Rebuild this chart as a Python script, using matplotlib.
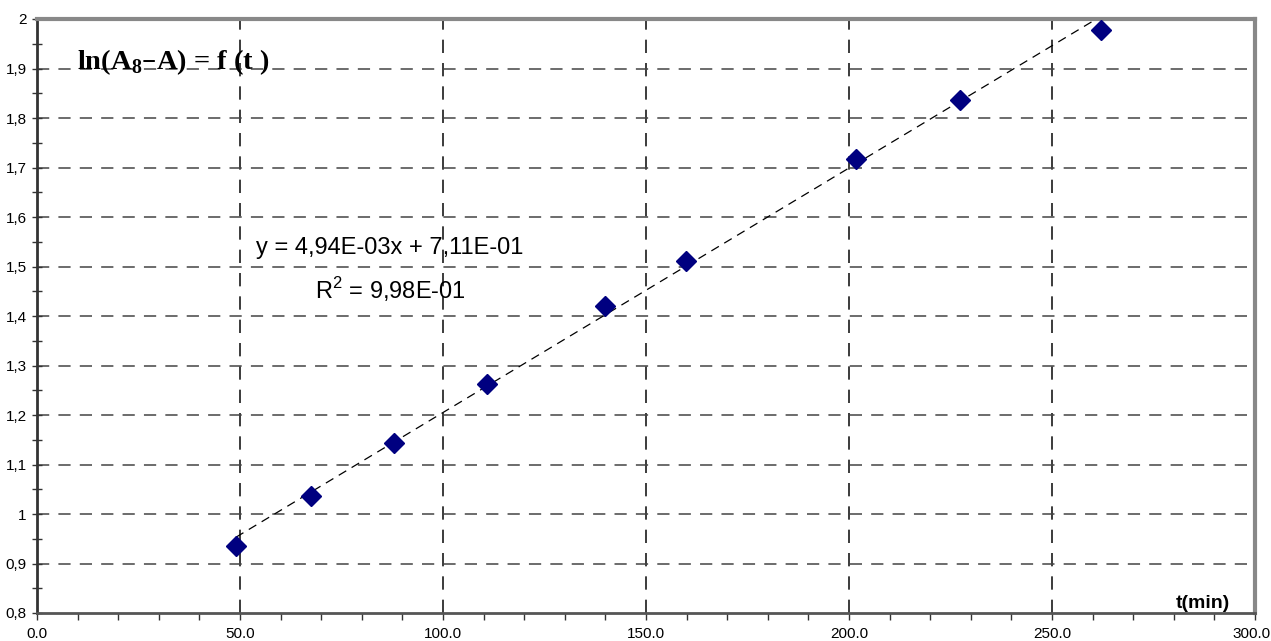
import matplotlib
matplotlib.use("Agg")
import matplotlib.pyplot as plt
import matplotlib.transforms as mtransforms
import numpy as np
from matplotlib.ticker import MultipleLocator, FuncFormatter

t_min = [49.0, 67.5, 87.9, 110.8, 139.9, 159.9, 201.7, 227.3, 262.1]
ln_vals = [0.935, 1.036, 1.143, 1.262, 1.421, 1.512, 1.718, 1.837, 1.978]
slope = 4.94e-03
intercept = 7.11e-01
x_ticks = [0, 50, 100, 150, 200, 250, 300]
y_ticks = [0.8, 0.9, 1.0, 1.1, 1.2, 1.3, 1.4, 1.5, 1.6, 1.7, 1.8, 1.9, 2.0]

fig = plt.figure(figsize=(12.71, 6.41), dpi=100)
ax = fig.add_axes([37/1271, 1-613/641, (1255-37)/1271, (613-19)/641])

ax.set_xlim(0, 300)
ax.set_ylim(0.8, 2.0)

# grid
for xv in x_ticks[1:-1]:
    ax.axvline(xv, color='#1a1a1a', lw=1.2, dashes=(8, 6), zorder=1)
for yv in y_ticks[1:-1]:
    ax.axhline(yv, color='#444444', lw=1.1, dashes=(8, 6), zorder=1)

# trendline
xt = np.array([min(t_min), max(t_min)])
ax.plot(xt, slope*xt + intercept, color='black', lw=0.9, dashes=(7, 5), zorder=2)

ax.plot(t_min, ln_vals, linestyle='none', marker='D', ms=10,
        color='#000080', mec='#000080', zorder=3, clip_on=False)

ax.set_xticks(x_ticks)
ax.set_yticks(y_ticks)
ax.xaxis.set_minor_locator(MultipleLocator(10))
ax.yaxis.set_minor_locator(MultipleLocator(0.05))
ax.xaxis.set_major_formatter(FuncFormatter(lambda v, p: f"{v:.1f}"))
def yfmt(v, p):
    s = f"{v:.1f}".replace('.', ',')
    if s.endswith(',0'):
        s = s[:-2]
    return s
ax.yaxis.set_major_formatter(FuncFormatter(yfmt))
ax.tick_params(axis='x', which='both', direction='out', length=5, width=1,
               color='#333333', labelsize=11, pad=5)
ax.tick_params(axis='y', which='both', direction='inout', length=7, width=1,
               color='#333333', labelsize=11, pad=4)
for lab in ax.get_xticklabels() + ax.get_yticklabels():
    lab.set_fontfamily('Liberation Sans')

fig.canvas.draw()
last = ax.get_xticklabels()[-1]
last.set_transform(last.get_transform() + mtransforms.ScaledTranslation(-3/100, 0, fig.dpi_scale_trans))

ax.spines['left'].set_color('#333333')
ax.spines['left'].set_linewidth(2)
ax.spines['bottom'].set_color('#555555')
ax.spines['bottom'].set_linewidth(2)
for s in ['top', 'right']:
    ax.spines[s].set_color('#888888')
    ax.spines[s].set_linewidth(3)

fig.text(77/1271, 1-62/641, r'ln(A$_\mathregular{8}$–A) = f (t )', family='Liberation Serif',
         fontweight='bold', fontsize=20.5, va='center', ha='left')
fig.text(390/1271, 1-248/641, 'y = 4,94E-03x + 7,11E-01', family='Liberation Sans',
         fontsize=17, ha='center', va='center')
fig.text(390/1271, 1-290/641, r'R$^\mathregular{2}$ = 9,98E-01', family='Liberation Sans',
         fontsize=17, ha='center', va='center')
fig.text(1203/1271, 1-603/641, 't(min)', family='Liberation Sans', fontweight='bold',
         fontsize=14, ha='center', va='center')

fig.savefig('out.png', dpi=100)
